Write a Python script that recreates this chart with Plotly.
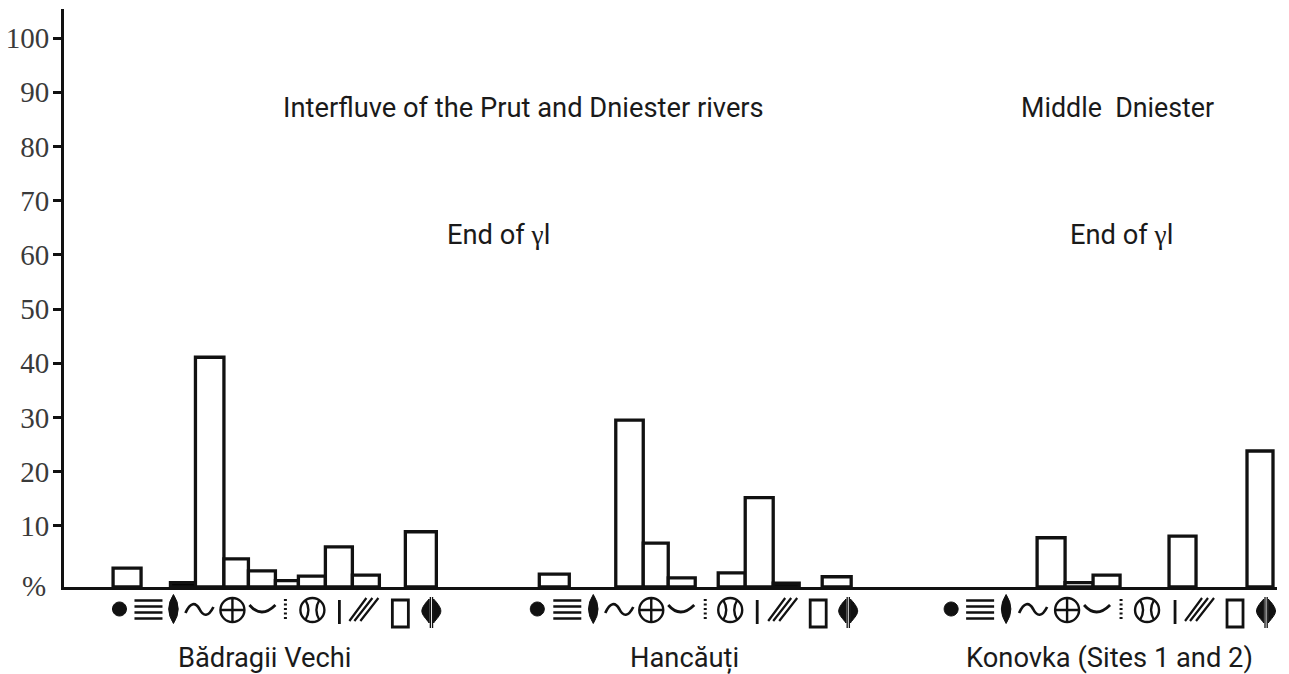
import plotly.graph_objects as go

# ---------- data (None = no bar) ----------
GLYPHS = ["circle", "lines", "lens", "wave", "cross", "arc", "dots", "ball", "bar", "slashes", "rect", "split"]
BADRAGII = [2.2, None, -0.5, 41.1, 3.9, 1.7, -0.1, 0.7, 6.1, 0.9, None, 8.9]
HANCAUTI = [1.1, None, None, 29.5, 6.8, 0.4, None, 1.3, 15.2, -0.6, None, 0.6]
KONOVKA = [None, None, None, 7.8, -0.5, 0.9, None, None, 8.1, None, None, 23.8]
BLACK_BARS = [{"lens"}, {"slashes"}, set()]
Y_TICKS = [10, 20, 30, 40, 50, 60, 70, 80, 90, 100]

SITE_LABELS = ["Bădragii Vechi", "Hancăuți", "Konovka (Sites 1 and 2)"]
REGION_LABELS = ["Interfluve of the Prut and Dniester rivers", "Middle  Dniester"]
PERIOD_LABEL = 'End of <span style="font-family:Liberation Serif">γ</span>l'

# ---------- layout (x axis runs in image pixels) ----------
W, H = 1289, 674
L, R, T, B = 63.5, 12, 9, 87
Y_BOTTOM, Y_TOP = -1.29, 105.35
BAR_EDGES = [
    [(112.6, 140.6), None, (170, 195), (195, 223.5), (223.5, 248), (248, 275), (275, 298), (298, 325), (325, 352),
     (352, 379), None, (405, 436)],
    [(539, 569), None, None, (615.5, 643), (643, 668), (668, 695), None, (718, 745), (745, 773), (773, 799), None,
     (822, 851)],
    [None, None, None, (1037, 1065), (1065, 1093), (1093, 1120), None, None, (1169, 1196), None, None, (1247, 1273)],
]
GLYPH_X = [
    [119, 148, 173, 199, 232, 262, 285, 312, 339, 364, 400, 431],
    [537, 567, 593, 619, 651, 681, 705, 730, 757, 783, 818, 848],
    [951, 980, 1006, 1033, 1067, 1097, 1121, 1147, 1175, 1200, 1235, 1266],
]
SERIES = [BADRAGII, HANCAUTI, KONOVKA]


def circle_path(r, cy=0.0):
    k = 0.5523 * r
    return (f"M{-r},{cy} C{-r},{cy + k} {-k},{cy + r} 0,{cy + r} C{k},{cy + r} {r},{cy + k} {r},{cy} "
            f"C{r},{cy - k} {k},{cy - r} 0,{cy - r} C{-k},{cy - r} {-r},{cy - k} {-r},{cy} Z")


# glyph -> list of (svg path in px around anchor, filled, line width)
GLYPH_PATHS = {
    "circle": [(circle_path(7, 1), True, 1)],
    "lines": [("M-14,9.5 L14,9.5 M-14,3.5 L14,3.5 M-14,-2.5 L14,-2.5 M-14,-8.5 L14,-8.5", False, 2.6)],
    "lens": [("M0,15.5 Q9.5,1 0,-13.5 Q-9.5,1 0,15.5 Z", True, 1)],
    "wave": [("M-14,-3 C-9,8 -4,8 0,1 C4,-7 9,-7 14,3", False, 2.7)],
    "cross": [(circle_path(12, 0) + " M-12,0 L12,0 M0,12 L0,-12", False, 2.4)],
    "arc": [("M-13,5 Q-1,-9 13,5", False, 2.8)],
    "dots": [("M0,11 L0,9 M0,6.5 L0,4.5 M0,2 L0,0 M0,-2.5 L0,-4.5 M0,-7 L0,-9", False, 3)],
    "ball": [(circle_path(12, 0) + " M-7,10 Q-1,0 -7,-10 M7,10 Q1,0 7,-10", False, 2.4)],
    "bar": [("M0,10 L0,-14", False, 2.8)],
    "slashes": [("M-15,-11 L2,12 M-10,-11 L8,12 M-4,-11 L14,12", False, 2.2)],
    "rect": [("M-8,10 L8,10 L8,-17 L-8,-17 Z", False, 2.8)],
    "split": [("M-2.2,11 C-5,8 -9.5,3 -9.5,-1 C-9.5,-5 -5,-9 -2.2,-13 Z", True, 1),
              ("M2.2,11 C5,8 9.5,3 9.5,-1 C9.5,-5 5,-9 2.2,-13 Z", True, 1),
              ("M-1,13 L-1,-18 M1.2,13 L1.2,-18", False, 1.3)],
}

fig = go.Figure()
for values, edges, blacks in zip(SERIES, BAR_EDGES, BLACK_BARS):
    xs, widths, heights, fills = [], [], [], []
    for name, v, e in zip(GLYPHS, values, edges):
        if v is None or e is None:
            continue
        xs.append((e[0] + e[1]) / 2)
        widths.append(e[1] - e[0])
        heights.append(v - Y_BOTTOM)
        fills.append("black" if name in blacks else "white")
    fig.add_trace(go.Bar(x=xs, y=heights, width=widths, base=Y_BOTTOM, cliponaxis=False,
                         marker=dict(color=fills, line=dict(color="#111", width=3.3)), showlegend=False))

plot_h = H - T - B
glyph_anchor = (H - B - 610) / plot_h
shapes = []
for positions in GLYPH_X:
    for name, gx in zip(GLYPHS, positions):
        for path, filled, lw in GLYPH_PATHS[name]:
            shapes.append(dict(type="path", xref="x", yref="paper", xsizemode="pixel", ysizemode="pixel",
                               xanchor=gx, yanchor=glyph_anchor, path=path,
                               fillcolor="#111" if filled else "rgba(0,0,0,0)",
                               line=dict(color="#111", width=lw)))


def note(x, py, text, size=27.3):
    return dict(x=x, y=(H - B - py) / plot_h, xref="x", yref="paper", text=text, showarrow=False,
                font=dict(family="Roboto", size=size, color="#1a1a1a"), xanchor="center", yanchor="middle")


annotations = [
    note(523, 108, REGION_LABELS[0]),
    note(1117, 108, REGION_LABELS[1], 26.8),
    note(498, 235, PERIOD_LABEL),
    note(1121, 235, PERIOD_LABEL),
    note(264, 658, SITE_LABELS[0]),
    note(684.5, 658, SITE_LABELS[1]),
    note(1109.5, 658, SITE_LABELS[2]),
    dict(x=0, y=(H - B - 586) / plot_h, xref="paper", yref="paper", xshift=-30, text="%", showarrow=False,
         xanchor="center", yanchor="middle", font=dict(family="Liberation Serif", size=29, color="#3a3a3a")),
]

fig.update_layout(
    width=W, height=H, margin=dict(l=L, r=R, t=T, b=B, autoexpand=False), paper_bgcolor="white", plot_bgcolor="white",
    barmode="overlay", showlegend=False, shapes=shapes, annotations=annotations,
    xaxis=dict(range=[L, W - R], showgrid=False, zeroline=False, showticklabels=False, ticks="", automargin=False,
               showline=True, linecolor="#111", linewidth=2.5),
    yaxis=dict(range=[Y_BOTTOM, Y_TOP], showgrid=False, zeroline=False, showline=True, linecolor="#111", linewidth=2.8,
               automargin=False, tickmode="array", tickvals=Y_TICKS, ticktext=[str(t) for t in Y_TICKS],
               ticks="outside", ticklen=8, tickwidth=2.5, tickcolor="#111", ticklabelstandoff=-2,
               tickfont=dict(family="Liberation Serif", size=29, color="#3a3a3a")),
)
fig.write_html("out.html", config={"displayModeBar": False}, post_script="document.body.style.margin='0';")
